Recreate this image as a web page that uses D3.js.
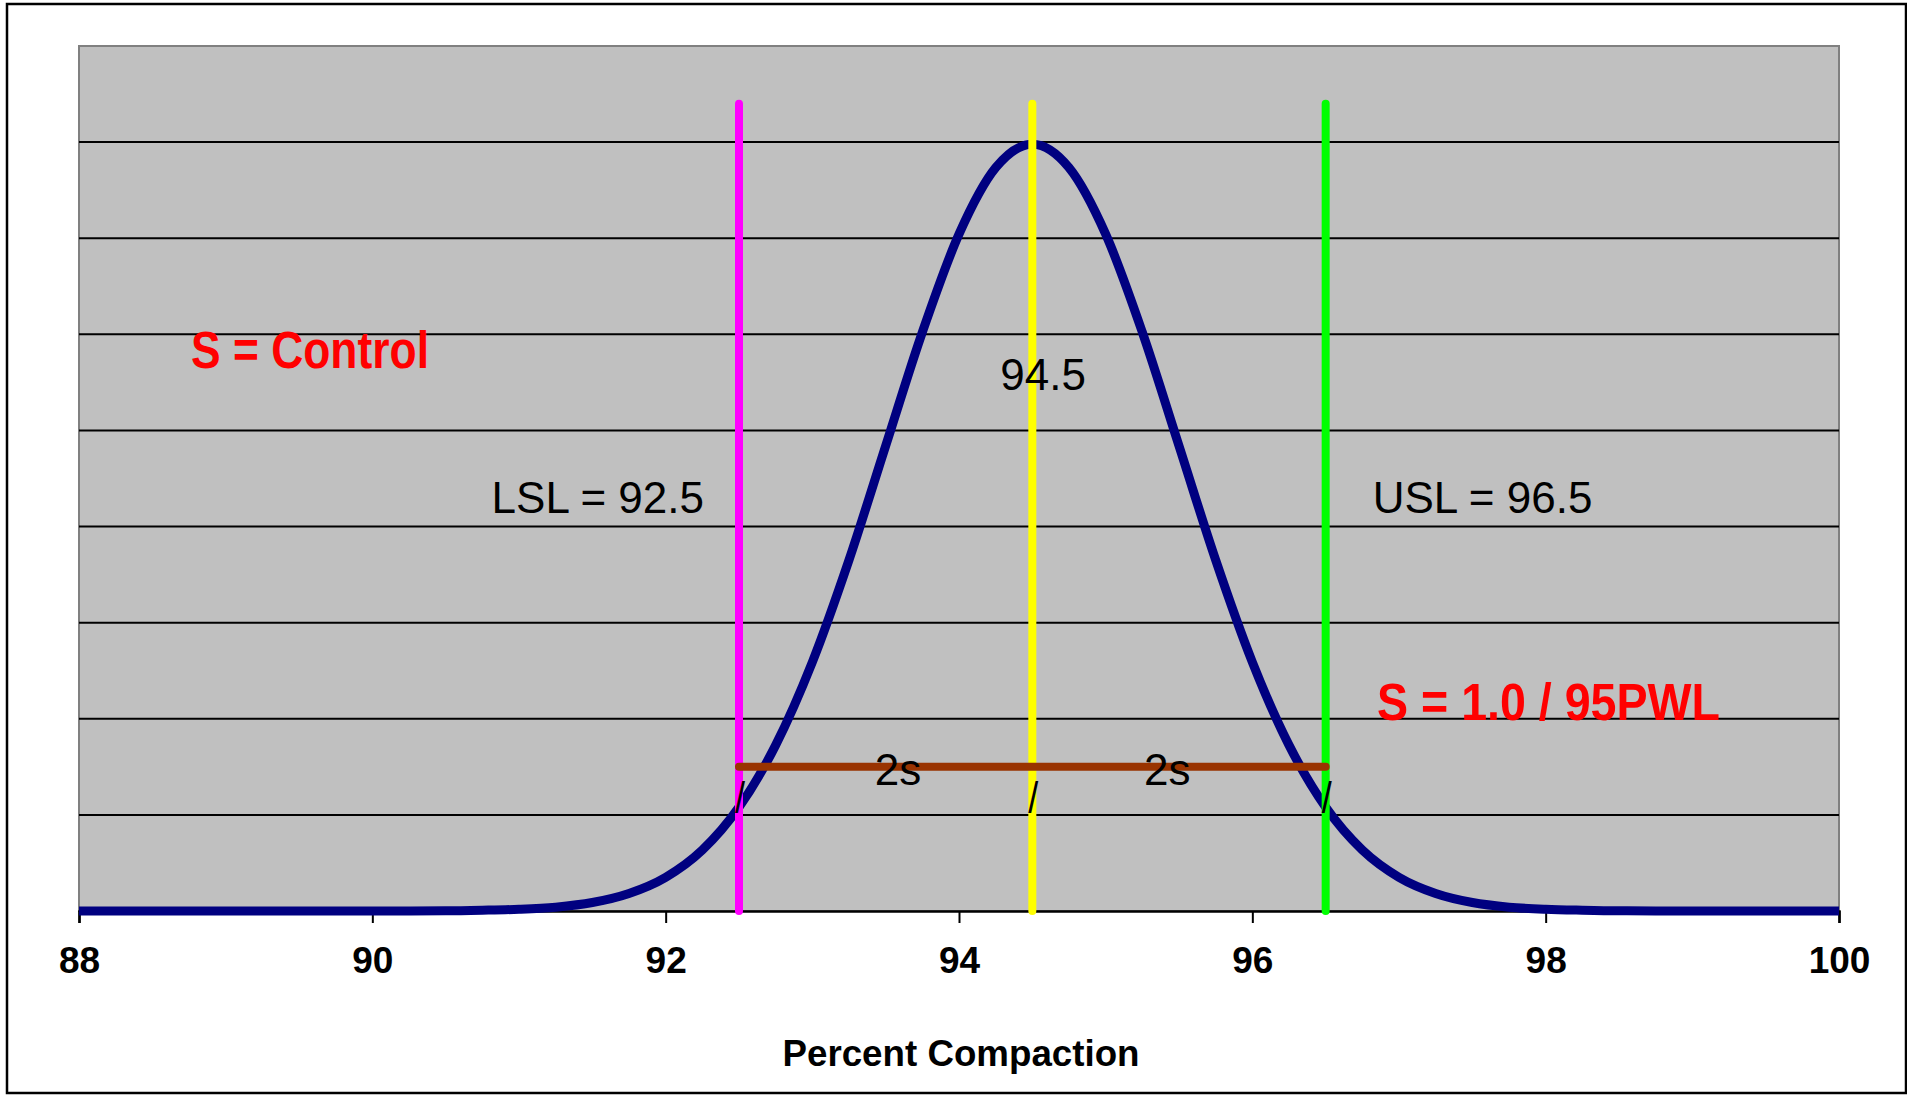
<!DOCTYPE html>
<html>
<head>
<meta charset="utf-8">
<script src="https://cdn.jsdelivr.net/npm/d3@7"></script>
<style>
  html, body { margin: 0; padding: 0; background: #fff; }
  svg { display: block; }
  text { font-family: "Liberation Sans", Arial, sans-serif; }
</style>
</head>
<body>
<script>
// Normal distribution of percent compaction (mean 94.5, s = 1.0)
const compaction = [88, 88.5, 89, 89.5, 90, 90.25, 90.5, 90.75, 91, 91.25, 91.5, 91.75,
  92, 92.25, 92.5, 92.75, 93, 93.25, 93.5, 93.75, 94, 94.25, 94.5,
  94.75, 95, 95.25, 95.5, 95.75, 96, 96.25, 96.5, 96.75, 97, 97.25,
  97.5, 97.75, 98, 98.25, 98.5, 98.75, 99, 99.5, 100];
const density = [0, 0, 0, 0, 0, 0.00005, 0.0001, 0.0004, 0.0009, 0.0020, 0.0044, 0.0091,
  0.0175, 0.0317, 0.0540, 0.0863, 0.1295, 0.1826, 0.2420, 0.3011, 0.3521, 0.3867, 0.3989,
  0.3867, 0.3521, 0.3011, 0.2420, 0.1826, 0.1295, 0.0863, 0.0540, 0.0317, 0.0175, 0.0091,
  0.0044, 0.0020, 0.0009, 0.0004, 0.0001, 0.00005, 0, 0, 0];

// Specification limits and target
const lsl = 92.5;
const target = 94.5;
const usl = 96.5;
const limitHeight = 0.42;
// 2s span bar
const spanStart = 92.5;
const spanEnd = 96.5;
const spanLevel = 0.075;

const xTicks = [88, 90, 92, 94, 96, 98, 100];
const gridValues = [0.05, 0.10, 0.15, 0.20, 0.25, 0.30, 0.35, 0.40];
const xTitle = "Percent Compaction";

const W = 1907, H = 1095;
const plot = { left: 79, right: 1839, top: 46, bottom: 911 };

const x = d3.scaleLinear().domain([88, 100]).range([plot.left, plot.right]);
const y = d3.scaleLinear().domain([0, 0.45]).range([plot.bottom, plot.top]);

const svg = d3.select("body").append("svg").attr("width", W).attr("height", H);

svg.append("rect").attr("width", W).attr("height", H).attr("fill", "#fff");
// outer chart frame
svg.append("rect").attr("x", 7).attr("y", 4).attr("width", 1899).attr("height", 1089)
  .attr("fill", "none").attr("stroke", "#000").attr("stroke-width", 2.5);

// plot area
svg.append("rect")
  .attr("x", plot.left).attr("y", plot.top)
  .attr("width", plot.right - plot.left).attr("height", plot.bottom - plot.top)
  .attr("fill", "#c0c0c0").attr("stroke", "#808080").attr("stroke-width", 2);

svg.append("g").selectAll("line").data(gridValues).join("line")
  .attr("x1", plot.left).attr("x2", plot.right)
  .attr("y1", d => y(d)).attr("y2", d => y(d))
  .attr("stroke", "#000").attr("stroke-width", 2);

// x axis
const xAxis = svg.append("g").attr("transform", `translate(0,${plot.bottom})`)
  .call(d3.axisBottom(x).tickValues(xTicks).tickSize(12).tickFormat(d3.format("d")));
xAxis.select(".domain").attr("stroke", "#000").attr("stroke-width", 2.5);
xAxis.selectAll(".tick line").attr("stroke", "#000").attr("stroke-width", 2);
xAxis.selectAll(".tick text")
  .attr("y", 62).attr("dy", 0)
  .attr("fill", "#000")
  .style("font-family", '"Liberation Sans", Arial, sans-serif')
  .style("font-size", "37px").style("font-weight", "bold");

svg.append("text")
  .attr("x", (plot.left + plot.right) / 2 + 2).attr("y", 1066)
  .attr("text-anchor", "middle")
  .style("font-size", "36px").style("font-weight", "bold")
  .attr("textLength", 357).attr("lengthAdjust", "spacingAndGlyphs")
  .text(xTitle);

// distribution curve
const pts = compaction.map((c, i) => [c, density[i]]);
svg.append("path")
  .datum(pts)
  .attr("fill", "none")
  .attr("stroke", "#000080")
  .attr("stroke-width", 9)
  .attr("d", d3.line().x(d => x(d[0])).y(d => y(d[1])).curve(d3.curveMonotoneX));

// limit lines
const limits = [
  { v: lsl, color: "#ff00ff" },
  { v: target, color: "#ffff00" },
  { v: usl, color: "#00ff00" }
];
svg.append("g").selectAll("line").data(limits).join("line")
  .attr("x1", d => x(d.v)).attr("x2", d => x(d.v))
  .attr("y1", y(0)).attr("y2", y(limitHeight))
  .attr("stroke", d => d.color).attr("stroke-width", 8)
  .attr("stroke-linecap", "round");

// 2s span
svg.append("line")
  .attr("x1", x(spanStart)).attr("x2", x(spanEnd))
  .attr("y1", y(spanLevel)).attr("y2", y(spanLevel))
  .attr("stroke", "#993300").attr("stroke-width", 8)
  .attr("stroke-linecap", "round");

// point markers below the span
svg.append("g").selectAll("text").data([lsl, target, usl]).join("text")
  .attr("x", d => x(d) + 1).attr("y", 813)
  .attr("text-anchor", "middle")
  .style("font-size", "44px")
  .attr("textLength", 10).attr("lengthAdjust", "spacingAndGlyphs")
  .text("/");

const labelFont = "44px";
svg.append("text").attr("x", x(93.5) - 11).attr("y", 785)
  .style("font-size", labelFont).text("2s");
svg.append("text").attr("x", x(95.5) - 35).attr("y", 785)
  .style("font-size", labelFont).text("2s");

svg.append("text").attr("x", x(lsl) - 35).attr("y", 513)
  .attr("text-anchor", "end").style("font-size", labelFont)
  .text(`LSL = ${lsl}`);
svg.append("text").attr("x", x(usl) + 47).attr("y", 513)
  .style("font-size", labelFont)
  .text(`USL = ${usl}`);
svg.append("text").attr("x", x(target) - 32).attr("y", 390)
  .style("font-size", labelFont)
  .text(`${target}`);

// method annotations
svg.append("text").attr("x", 191).attr("y", 368)
  .attr("fill", "#ff0000")
  .style("font-size", "51px").style("font-weight", "bold")
  .attr("textLength", 238).attr("lengthAdjust", "spacingAndGlyphs")
  .text("S = Control");
svg.append("text").attr("x", 1377).attr("y", 720)
  .attr("fill", "#ff0000")
  .style("font-size", "51px").style("font-weight", "bold")
  .attr("textLength", 343).attr("lengthAdjust", "spacingAndGlyphs")
  .text("S = 1.0 / 95PWL");
</script>
</body>
</html>
